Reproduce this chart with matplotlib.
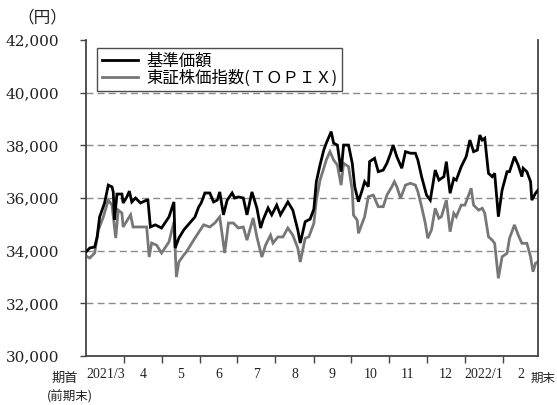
import matplotlib
matplotlib.use("Agg")
import matplotlib.pyplot as plt
from matplotlib.ticker import FixedLocator, NullFormatter, FixedFormatter

plt.rcParams['font.family'] = ['DejaVu Serif', 'Noto Sans CJK JP']

# Days elapsed since the start of the period (end of Feb 2021)
fund_days = [0, 3, 7, 9, 11, 15, 18, 21, 22, 23, 25, 29, 30, 33, 35, 37, 40, 44, 49, 50,
             52, 56, 61, 67, 71, 72, 75, 79, 81, 88, 91, 93, 96, 100, 103, 106, 108, 111,
             114, 118, 120, 123, 127, 130, 134, 138, 141, 143, 147, 150, 154, 157, 163,
             167, 171, 173, 177, 181, 184, 186, 189, 192, 194, 198, 200, 203, 206, 208,
             212, 215, 217, 220, 223, 225, 228, 229, 233, 236, 240, 243, 246, 248, 251,
             255, 258, 262, 266, 268, 271, 275, 278, 282, 285, 289, 291, 294, 297, 299,
             303, 307, 310, 313, 316, 318, 320, 322, 325, 328, 330, 333, 336, 340, 342,
             346, 349, 352, 353, 356, 359, 360, 363, 365]
fund_nav = [33950, 34100, 34140, 34520, 35280, 35810, 36490, 36420, 36230, 35170, 36150,
            36150, 35810, 36040, 36260, 35850, 36000, 35810, 35920, 35920, 34900, 34980,
            34860, 35280, 35850, 34100, 34480, 34790, 34900, 35280, 35660, 35810, 36190,
            36190, 35850, 35920, 36230, 35360, 35920, 36190, 36000, 36040, 36000, 35360,
            36230, 35620, 34860, 35170, 35620, 35360, 35730, 35360, 35850, 35540, 34790,
            34290, 35100, 35200, 35580, 36620, 37260, 37820, 38080, 38520, 38080, 38010,
            37000, 38010, 38010, 37320, 36430, 35860, 36300, 36620, 36430, 37380, 37510,
            37000, 37060, 37320, 37700, 38010, 37570, 37130, 37760, 37700, 37700, 37440,
            36810, 36110, 35920, 37060, 36680, 36810, 37380, 36180, 36740, 36680, 37190,
            37570, 38200, 37760, 37820, 38390, 38200, 38270, 36940, 36810, 36940, 35290,
            36300, 37000, 37000, 37570, 37250, 36810, 37130, 37000, 36620, 35920, 36180,
            36300]

topix_days = [0, 3, 7, 10, 14, 18, 21, 24, 26, 29, 30, 36, 38, 44, 49, 51, 53, 57, 61, 67,
              71, 73, 75, 79, 81, 88, 95, 100, 104, 108, 112, 115, 119, 123, 127, 130, 135,
              138, 142, 145, 149, 151, 155, 159, 163, 167, 171, 173, 177, 180, 184, 186,
              189, 192, 194, 197, 200, 203, 206, 208, 212, 215, 216, 219, 220, 223, 225,
              228, 232, 236, 240, 243, 247, 249, 251, 254, 258, 262, 266, 268, 271, 274,
              276, 279, 282, 285, 287, 291, 294, 297, 299, 303, 306, 311, 313, 317, 320,
              322, 325, 328, 330, 333, 336, 340, 342, 346, 349, 352, 356, 359, 361, 363,
              365]
topix_index = [33800, 33720, 33910, 34790, 35280, 35920, 35730, 34480, 35540, 35430,
               34900, 35360, 34900, 34900, 34900, 33760, 34290, 34210, 33910, 34330,
               35090, 33000, 33570, 33840, 33950, 34480, 34980, 34900, 35050, 35280,
               33910, 35050, 35050, 34860, 34900, 34400, 35240, 34520, 33760, 34210,
               34590, 34290, 34520, 34520, 34860, 34590, 34100, 33570, 34470, 34530,
               35040, 35920, 36680, 37130, 37440, 37760, 37440, 37250, 36490, 37320,
               37190, 36300, 35350, 35160, 34660, 35040, 35290, 36050, 36110, 35670,
               35670, 36110, 36430, 36620, 36430, 35990, 36490, 36560, 36490, 36240,
               35670, 35040, 34470, 34790, 35610, 35230, 35290, 35920, 34720, 35420,
               35290, 35730, 35730, 36370, 35730, 35540, 35610, 35420, 34530, 34400,
               34280, 32950, 33770, 33900, 34470, 34980, 34600, 34280, 34280, 33770,
               33200, 33520, 33580]

# Month-end boundaries (days from period start) and the month labels between them
month_ends = [31, 61, 92, 122, 153, 184, 214, 245, 275, 306, 337]
month_labels = ["2021/3", "4", "5", "6", "7", "8", "9", "10", "11", "12", "2022/1", "2"]
y_ticks = [30000, 32000, 34000, 36000, 38000, 40000, 42000]

fig = plt.figure(figsize=(5.57, 4.05), dpi=100)
ax = fig.add_axes([86 / 557, 49 / 405, 452 / 557, 316 / 405])

for y in y_ticks[1:-1]:
    ax.axhline(y, color="#8a8a8a", lw=1.0, ls=(0, (5, 3)), zorder=1)

ax.plot(topix_days, topix_index, color="#777777", lw=2.0, zorder=2,
        label="東証株価指数(ＴＯＰＩＸ)", solid_joinstyle="miter")
ax.plot(fund_days, fund_nav, color="#000000", lw=2.0, zorder=3,
        label="基準価額", solid_joinstyle="miter")

ax.set_xlim(0, 365)
ax.set_ylim(30000, 42000)

ax.spines["top"].set_visible(False)
for s in ("left", "bottom", "right"):
    ax.spines[s].set_color("#444444")
    ax.spines[s].set_linewidth(1.3)

ax.set_yticks(y_ticks)
ax.set_yticklabels([f"{v:,}" for v in y_ticks])
ax.tick_params(axis="y", length=4, width=1, color="#444444", pad=15,
               labelsize=11, labelcolor="#222222")

bounds = [0] + month_ends + [365]
mids = [(a + b) / 2 for a, b in zip(bounds[:-1], bounds[1:])]
ax.xaxis.set_major_locator(FixedLocator(month_ends))
ax.xaxis.set_major_formatter(NullFormatter())
ax.xaxis.set_minor_locator(FixedLocator(mids))
ax.xaxis.set_minor_formatter(FixedFormatter(month_labels))
ax.tick_params(axis="x", which="major", length=5, width=1, color="#444444")
ax.tick_params(axis="x", which="minor", length=0, pad=9, labelsize=10,
               labelcolor="#222222")
for lab in ax.xaxis.get_minorticklabels():
    lab.set_fontfamily(["Liberation Serif", "Noto Sans CJK JP"])

jp = ["Noto Sans CJK JP"]
ax.text(-0.018, -0.07, "期首", transform=ax.transAxes, ha="right", va="center",
        fontsize=9.5, family=jp, color="#222222")
ax.text(-0.035, -0.13, "(前期末)", transform=ax.transAxes, ha="center", va="center",
        fontsize=9, family=jp, color="#222222")
fig.text(556 / 557, 1 - 378 / 405, "期末", ha="right", va="center",
         fontsize=9, family=jp, color="#222222")
fig.text(42 / 557, 1 - 18 / 405, "（円）", ha="center", va="center", fontsize=12,
         family=jp, color="#222222")

handles, labels = ax.get_legend_handles_labels()
leg = ax.legend(handles[::-1], labels[::-1], loc="upper left",
                bbox_to_anchor=(11 / 452, 1 - 8 / 316), prop={"family": jp, "size": 11.8},
                frameon=True, fancybox=False, shadow=False, handlelength=2.2,
                handletextpad=0.5, labelspacing=-0.05, borderpad=0.3, borderaxespad=0)
leg.get_frame().set_edgecolor("#222222")
leg.get_frame().set_linewidth(1.0)

fig.savefig("out.png", dpi=100)
